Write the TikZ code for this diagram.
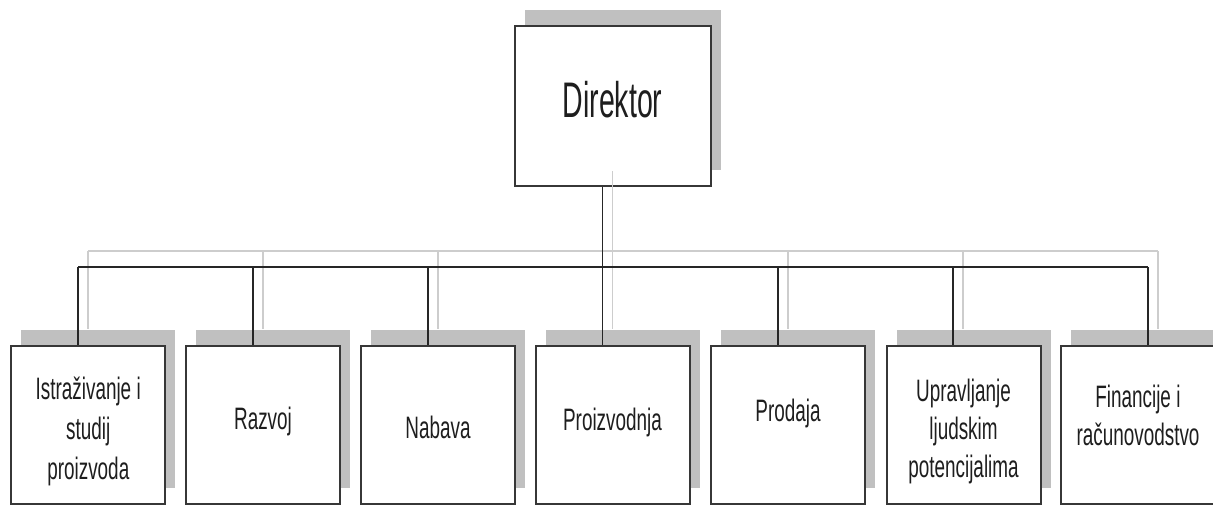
\documentclass[tikz,border=0pt]{standalone}
\usepackage{fontspec}
\setmainfont{Liberation Sans}
\newfontfamily\dirfont[FakeStretch=0.57]{Liberation Sans}
\newfontfamily\boxfont[FakeStretch=0.61]{Liberation Sans}
\usetikzlibrary{calc,shadows}
\definecolor{shadowgray}{RGB}{192,192,192}
\definecolor{lightline}{RGB}{205,205,205}
\definecolor{boxline}{RGB}{55,55,55}
\definecolor{txt}{RGB}{30,30,30}
\newcommand\narrowgap{\hspace{5.5pt}}
\tikzset{
  unitbox/.style={rectangle, draw=boxline, line width=2pt, fill=white, inner sep=0pt,
    general shadow={shadow xshift=10pt, shadow yshift=16pt, fill=shadowgray}},
  dirbox/.style={unitbox, minimum width=196pt, minimum height=160pt},
  deptbox/.style={unitbox, minimum width=154pt, minimum height=158pt},
  dirtext/.style={font=\dirfont\fontsize{50}{60}\selectfont, text=txt, inner sep=0pt, anchor=base},
  depttext/.style={font=\boxfont\fontsize{31}{38}\selectfont, text=txt, inner sep=0pt,
    anchor=base, text width=150pt, align=center},
  conn/.style={draw=black!85, line width=1.7pt},
  connshadow/.style={draw=lightline, line width=1.2pt, transform canvas={xshift=10pt, yshift=16pt}}
}
\begin{document}
\begin{tikzpicture}[x=1pt,y=-1pt]
\useasboundingbox (0,0) rectangle (1213,504);
\clip (0,0) rectangle (1213,504);
% boxes
\node[dirbox] (dir) at (613,106) {};
\node[deptbox] (b1) at (88.3,425) {};
\node[deptbox] (b2) at (263,425) {};
\node[deptbox] (b3) at (438,425) {};
\node[deptbox] (b4) at (612.5,425) {};
\node[deptbox] (b5) at (788,425) {};
\node[deptbox] (b6) at (963.5,425) {};
\node[deptbox] (b7) at (1138,425) {};
% bus coordinates
\coordinate (kd) at (602.5,267);
\coordinate (k1) at (78,267);
\coordinate (k2) at (253,267);
\coordinate (k3) at (428,267);
\coordinate (k4) at (602.5,267);
\coordinate (k5) at (778,267);
\coordinate (k6) at (953,267);
\coordinate (k7) at (1148,267);
% connector shadows, then connectors
\foreach \s in {connshadow, conn}{
  \draw[\s] (kd |- dir.south) -- (kd);
  \draw[\s] (k1) -- (k7);
  \foreach \i in {1,...,7}{
    \draw[\s] (k\i) -- (k\i |- b\i.north);
  }
}
% texts
\node[dirtext] (tdir) at (612.5,117.7) {Direktor};
\node[depttext, font=\boxfont\fontsize{31}{40}\selectfont] (t1) at (88.3,399) {Istraživanje\narrowgap i\\studij\\proizvoda};
\node[depttext] (t2) at (263,429) {Razvoj};
\node[depttext] (t3) at (438,438) {Nabava};
\node[depttext] (t4) at (612.5,430) {Proizvodnja};
\node[depttext] (t5) at (788,421.5) {Prodaja};
\node[depttext] (t6) at (963.5,401.5) {Upravljanje\\ljudskim\\potencijalima};
\node[depttext] (t7) at (1138,407) {Financije\narrowgap i\\računovodstvo};
\end{tikzpicture}
\end{document}
